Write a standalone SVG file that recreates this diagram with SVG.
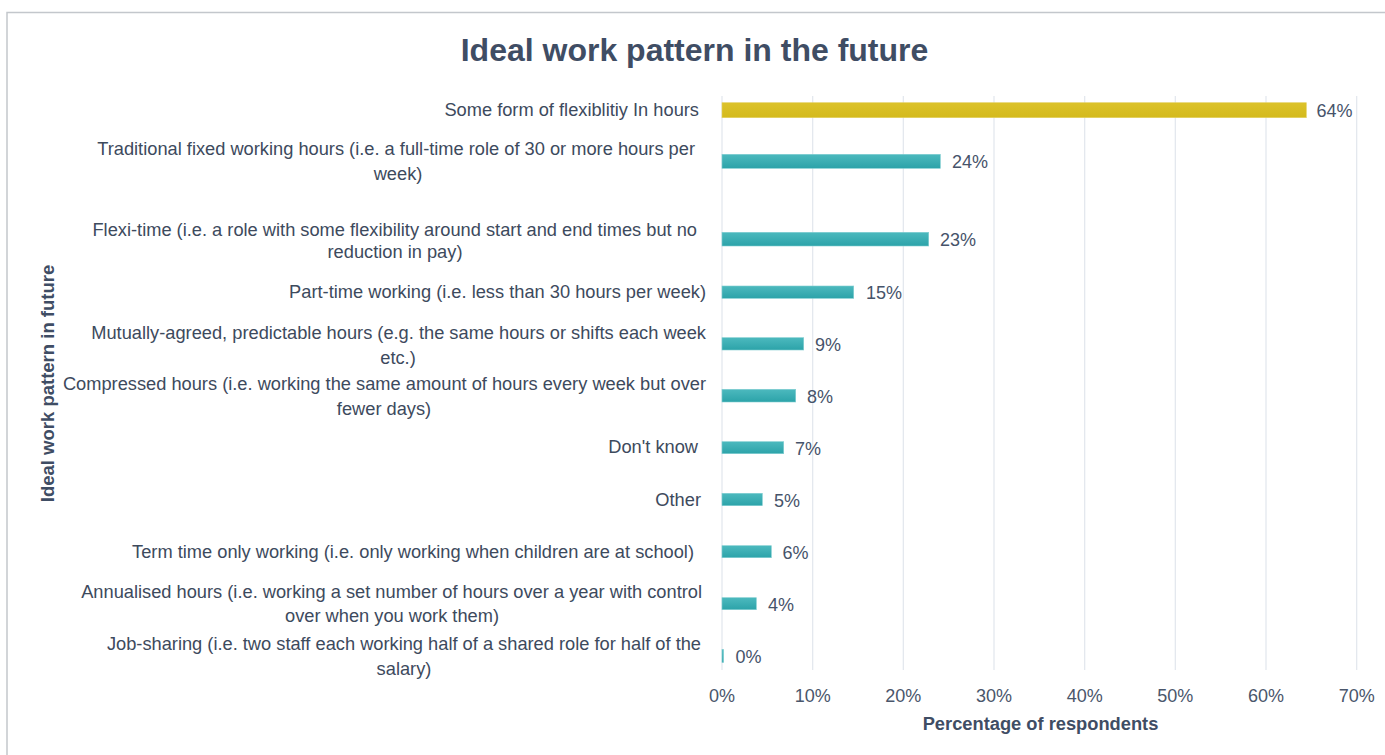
<svg xmlns="http://www.w3.org/2000/svg" width="1385" height="755" viewBox="0 0 1385 755">
<defs>
<linearGradient id="teal" x1="0" y1="0" x2="0" y2="1">
<stop offset="0" stop-color="#4cb9be"/>
<stop offset="1" stop-color="#2ca3a9"/>
</linearGradient>
<linearGradient id="gold" x1="0" y1="0" x2="0" y2="1">
<stop offset="0" stop-color="#dcc22a"/>
<stop offset="1" stop-color="#d4ba1c"/>
</linearGradient>
</defs>
<style>
text{font-family:"Liberation Sans",Arial,sans-serif;fill:#3d4a5d}
.title{font-size:32px;font-weight:bold;fill:#3f4d64}
.cat{font-size:18.25px;text-anchor:end}
.cat2{font-size:18.25px;text-anchor:middle}
.val{font-size:18px;fill:#46536a}
.tick{font-size:18px;text-anchor:middle;fill:#4a566b}
.axt{font-size:18.3px;font-weight:bold;text-anchor:middle;fill:#3f4d64}
.grid{stroke:#e1e6ed;stroke-width:1.2}
.bar{fill:url(#teal);stroke:#7fcdd1;stroke-width:0.6}
</style>
<rect x="7" y="12.5" width="1400" height="800" fill="#ffffff" stroke="#c3c7cc" stroke-width="1.5"/>
<text class="title" x="694.5" y="61" text-anchor="middle">Ideal work pattern in the future</text>
<g id="grid">
<line class="grid" x1="722" y1="96" x2="722" y2="670"/>
<line class="grid" x1="812.7" y1="96" x2="812.7" y2="670"/>
<line class="grid" x1="903.3" y1="96" x2="903.3" y2="670"/>
<line class="grid" x1="994" y1="96" x2="994" y2="670"/>
<line class="grid" x1="1084.7" y1="96" x2="1084.7" y2="670"/>
<line class="grid" x1="1175.3" y1="96" x2="1175.3" y2="670"/>
<line class="grid" x1="1266" y1="96" x2="1266" y2="670"/>
<line class="grid" x1="1356.7" y1="96" x2="1356.7" y2="670"/>
</g>
<g id="xticks">
<text class="tick" x="722" y="701.5">0%</text>
<text class="tick" x="812.7" y="701.5">10%</text>
<text class="tick" x="903.3" y="701.5">20%</text>
<text class="tick" x="994" y="701.5">30%</text>
<text class="tick" x="1084.7" y="701.5">40%</text>
<text class="tick" x="1175.3" y="701.5">50%</text>
<text class="tick" x="1266" y="701.5">60%</text>
<text class="tick" x="1356.7" y="701.5">70%</text>
</g>
<text class="axt" x="1040.5" y="730">Percentage of respondents</text>
<text class="axt" transform="translate(54,383.5) rotate(-90)" x="0" y="0" style="font-size:18.5px">Ideal work pattern in future</text>
<g id="row1">
<text class="cat" x="699" y="115.5">Some form of flexiblitiy In hours</text>
<rect x="722" y="102.7" width="584.3" height="15" fill="url(#gold)" stroke="#e3d060" stroke-width="0.6"/>
<text class="val" x="1316.5" y="116.5">64%</text>
</g>
<g id="row2">
<text class="cat" x="695" y="155">Traditional fixed working hours (i.e. a full-time role of 30 or more hours per</text>
<text class="cat2" x="398" y="179.5">week)</text>
<rect class="bar" x="722" y="154.3" width="218.3" height="14"/>
<text class="val" x="952" y="168">24%</text>
</g>
<g id="row3">
<text class="cat" x="697" y="235.5">Flexi-time (i.e. a role with some flexibility around start and end times but no</text>
<text class="cat2" x="395" y="258">reduction in pay)</text>
<rect class="bar" x="722" y="232.3" width="206.7" height="13.7"/>
<text class="val" x="940" y="246">23%</text>
</g>
<g id="row4">
<text class="cat" x="706" y="298">Part-time working (i.e. less than 30 hours per week)</text>
<rect class="bar" x="722" y="286" width="131.7" height="12.3"/>
<text class="val" x="866" y="298.5">15%</text>
</g>
<g id="row5">
<text class="cat" x="706" y="338.5">Mutually-agreed, predictable hours (e.g. the same hours or shifts each week</text>
<text class="cat2" x="398" y="363.5">etc.)</text>
<rect class="bar" x="722" y="337.7" width="81.7" height="12.3"/>
<text class="val" x="815" y="350.5">9%</text>
</g>
<g id="row6">
<text class="cat" x="706" y="390">Compressed hours (i.e. working the same amount of hours every week but over</text>
<text class="cat2" x="384" y="414.5">fewer days)</text>
<rect class="bar" x="722" y="389.3" width="73.7" height="12.7"/>
<text class="val" x="807" y="402.5">8%</text>
</g>
<g id="row7">
<text class="cat" x="698" y="453">Don't know</text>
<rect class="bar" x="722" y="441.7" width="61.7" height="12"/>
<text class="val" x="795" y="454.5">7%</text>
</g>
<g id="row8">
<text class="cat" x="701" y="506">Other</text>
<rect class="bar" x="722" y="493.3" width="40.3" height="12.4"/>
<text class="val" x="774" y="506.5">5%</text>
</g>
<g id="row9">
<text class="cat" x="694" y="558">Term time only working (i.e. only working when children are at school)</text>
<rect class="bar" x="722" y="545.7" width="49.3" height="12"/>
<text class="val" x="782.5" y="558.5">6%</text>
</g>
<g id="row10">
<text class="cat" x="702" y="598">Annualised hours (i.e. working a set number of hours over a year with control</text>
<text class="cat2" x="392" y="622">over when you work them)</text>
<rect class="bar" x="722" y="597.7" width="34.3" height="12"/>
<text class="val" x="768" y="610.5">4%</text>
</g>
<g id="row11">
<text class="cat" x="701" y="649.5">Job-sharing (i.e. two staff each working half of a shared role for half of the</text>
<text class="cat2" x="404" y="674.5">salary)</text>
<rect class="bar" x="722" y="649.5" width="1.6" height="13"/>
<text class="val" x="735.5" y="662.5">0%</text>
</g>
</svg>
